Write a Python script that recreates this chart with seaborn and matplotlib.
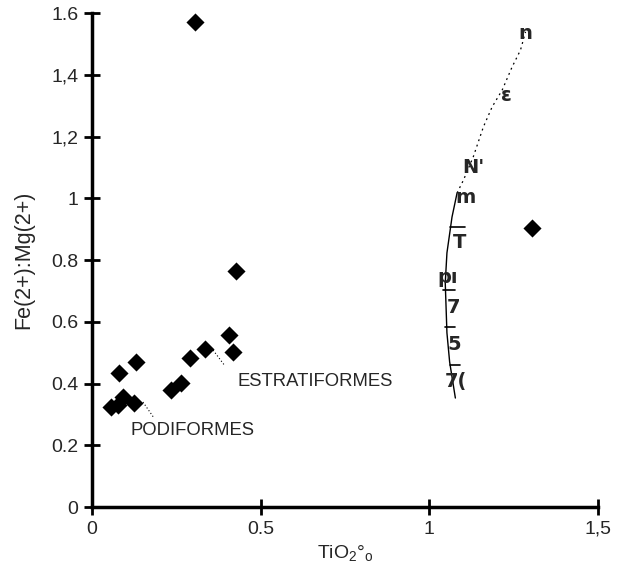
import matplotlib
matplotlib.use("Agg")
import matplotlib.pyplot as plt
import seaborn as sns
import pandas as pd

# ---- data ----
tio2 = [0.056, 0.078, 0.092, 0.125, 0.080, 0.130, 0.234, 0.264, 0.291, 0.335,
        0.406, 0.419, 0.427, 0.305, 1.304]
fe_mg = [0.324, 0.331, 0.356, 0.337, 0.433, 0.471, 0.379, 0.401, 0.484, 0.512,
         0.557, 0.501, 0.764, 1.570, 0.903]

# trend curve (solid lower part, dotted upper part)
curve_solid_x = [1.077, 1.060, 1.052, 1.047, 1.052, 1.067, 1.082]
curve_solid_y = [0.353, 0.470, 0.564, 0.726, 0.823, 0.939, 1.017]
curve_dot_x = [1.082, 1.101, 1.130, 1.160, 1.186, 1.216, 1.245, 1.270, 1.285]
curve_dot_y = [1.017, 1.059, 1.134, 1.231, 1.296, 1.351, 1.425, 1.480, 1.539]

# labels along the curve (partially erased in the scan)
curve_labels = ["n", "ε", "N'", "m", "T", "pı", "7", "5", "7("]
curve_lab_x = [1.284, 1.227, 1.130, 1.106, 1.088, 1.055, 1.070, 1.073, 1.079]
curve_lab_y = [1.535, 1.334, 1.101, 1.004, 0.858, 0.745, 0.645, 0.525, 0.405]

# short bars across the curve
bar_x0 = [1.061, 1.041, 1.047, 1.061]
bar_x1 = [1.106, 1.076, 1.076, 1.091]
bar_y = [0.908, 0.703, 0.583, 0.460]

x_ticks = [0, 0.5, 1, 1.5]
x_ticklabels = ["0", "0.5", "1", "1,5"]
y_ticks = [0, 0.2, 0.4, 0.6, 0.8, 1.0, 1.2, 1.4, 1.6]
y_ticklabels = ["0", "0.2", "0.4", "0.6", "0.8", "1", "1,2", "1,4", "1.6"]

groups = ["PODIFORMES", "ESTRATIFORMES"]
group_text_xy = [(0.113, 0.249), (0.430, 0.405)]
group_leader = [((0.151, 0.340), (0.184, 0.288)), ((0.359, 0.508), (0.392, 0.460))]

# ---- plot ----
sns.set_style("ticks")
plt.rcParams["font.family"] = ["Liberation Sans", "DejaVu Sans"]
plt.rcParams["mathtext.fontset"] = "custom"
plt.rcParams["mathtext.rm"] = "Liberation Sans"
plt.rcParams["mathtext.it"] = "Liberation Sans"

fig = plt.figure(figsize=(6.23, 5.66), dpi=100)
ax = fig.add_axes([0.1477, 0.1042, 0.8123, 0.8728])

df = pd.DataFrame({"TiO2": tio2, "FeMg": fe_mg})
sns.scatterplot(data=df, x="TiO2", y="FeMg", marker="D", color="black",
                s=85, edgecolor="black", linewidth=0, ax=ax, zorder=3)

sns.lineplot(x=curve_solid_x, y=curve_solid_y, sort=False, estimator=None,
             color="black", lw=1.0, ax=ax)
sns.lineplot(x=curve_dot_x, y=curve_dot_y, sort=False, estimator=None,
             color="black", lw=0.9, linestyle=(0, (1.5, 3)), ax=ax)

for x0, x1, y in zip(bar_x0, bar_x1, bar_y):
    ax.plot([x0, x1], [y, y], color="black", lw=1.2)

for lab, x, y in zip(curve_labels, curve_lab_x, curve_lab_y):
    ax.text(x, y, lab, fontsize=14, fontweight="bold", ha="center", va="center",
            family=["DejaVu Sans"])

for g, (tx, ty), ((lx0, ly0), (lx1, ly1)) in zip(groups, group_text_xy, group_leader):
    ax.text(tx, ty, g, fontsize=13.3, ha="left", va="center")
    ax.plot([lx0, lx1], [ly0, ly1], color="black", lw=0.8, linestyle=(0, (1, 2)))

ax.set_xlim(0, 1.5)
ax.set_ylim(0, 1.6)
ax.set_xticks(x_ticks)
ax.set_xticklabels(x_ticklabels, fontsize=14)
ax.set_yticks(y_ticks)
ax.set_yticklabels(y_ticklabels, fontsize=14)
ax.tick_params(direction="inout", length=12, width=2, color="black", pad=4)
for side in ["top", "right"]:
    ax.spines[side].set_visible(False)
for side in ["left", "bottom"]:
    ax.spines[side].set_linewidth(2.5)
    ax.spines[side].set_color("black")

ax.set_xlabel(r"TiO$_2$°$_{\rm o}$", fontsize=14, labelpad=4)
ax.set_ylabel("Fe(2+):Mg(2+)", fontsize=15.5, labelpad=12)

fig.savefig("out.png", dpi=100)
